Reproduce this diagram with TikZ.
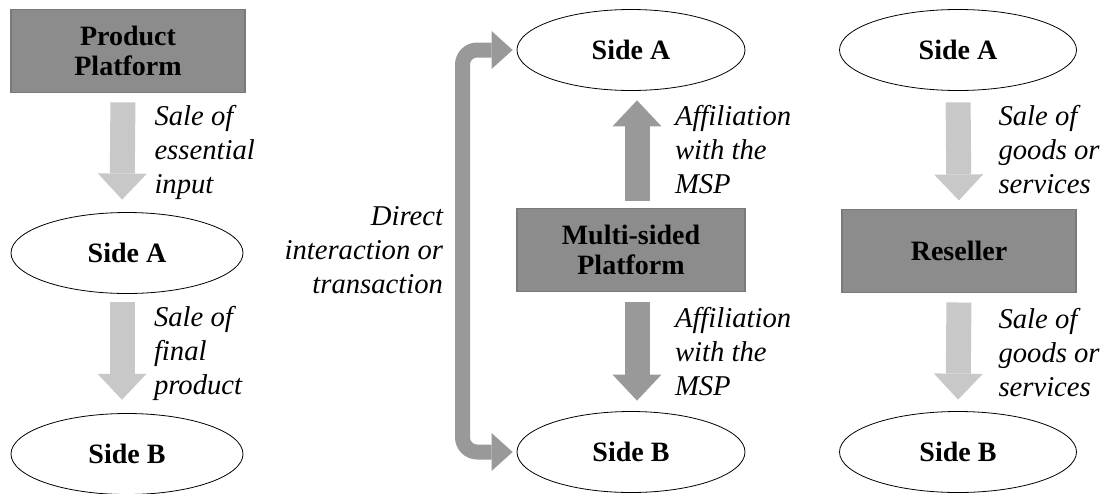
\documentclass[tikz,border=0pt]{standalone}
\usepackage{fontspec}
\setmainfont{Liberation Serif}
\usetikzlibrary{arrows.meta,shapes.geometric,positioning}
\definecolor{msBox}{HTML}{8C8C8C}
\definecolor{msBoxLine}{HTML}{7A7A7A}
\definecolor{msDark}{HTML}{999999}
\definecolor{msLight}{HTML}{C8C8C8}
\newcommand\ppx{0.75pt}
\tikzset{
  ms box/.style={rectangle, draw=msBoxLine, fill=msBox, line width=0.8pt, minimum width=234*\ppx, minimum height=83*\ppx, inner sep=0pt, align=center, font=\fontsize{21}{23}\selectfont\bfseries},
  ms side/.style={ellipse, draw=black, line width=0.6pt, minimum width=232*\ppx, minimum height=81*\ppx, inner sep=0pt, font=\fontsize{21}{23}\selectfont\bfseries},
  ms flow/.style={line width=18.75pt, -{Triangle[length=19.5pt, width=36.75pt, line width=0pt]}},
  ms link/.style={draw=msDark, line width=11.25pt, rounded corners=11pt, {Triangle[length=15.75pt, width=28.5pt, line width=0pt]}-{Triangle[length=15.75pt, width=28.5pt, line width=0pt]}},
  ms note/.style={font=\fontsize{21.5}{25.5}\selectfont\itshape, align=left, inner sep=0pt, outer sep=0pt, text=black},
}
\begin{document}
\begin{tikzpicture}[x=0.75pt,y=-0.75pt]
\useasboundingbox (0,0) rectangle (1103,493);
% product platform
\node[ms box] (prod) at (128,51) {Product\\Platform};
\node[ms side] (pA) at (127,253) {Side A};
\node[ms side] (pB) at (127,454) {Side B};
\draw[ms flow, draw=msLight, shorten <=7pt, shorten >=9.4pt] ([xshift=-3.75pt]prod.south) -- ([xshift=-3.75pt]pA.north)
  node[ms note, midway, right=24pt] (saleIn) {Sale of\\essential\\input};
\draw[ms flow, draw=msLight, shorten <=6.4pt, shorten >=10pt] ([xshift=-3.75pt]pA.south) -- ([xshift=-3.75pt]pB.north)
  node[ms note, midway, right=24pt] (saleFin) {Sale of\\final\\product};
% multi-sided platform
\node[ms side, minimum width=228*\ppx] (mA) at (631,50) {Side A};
\node[ms box, minimum width=228*\ppx] (msp) at (631,250) {Multi-sided\\Platform};
\node[ms side, minimum width=228*\ppx] (mB) at (631,452) {Side B};
\draw[ms flow, draw=msDark, shorten <=5.6pt, shorten >=7.1pt] ([xshift=4.5pt]msp.north) -- ([xshift=4.5pt]mA.south)
  node[ms note, midway, right=28.5pt] (affA) {Affiliation\\with the\\MSP};
\draw[ms flow, draw=msDark, shorten <=7.1pt, shorten >=7.9pt] ([xshift=4.5pt]msp.south) -- ([xshift=4.5pt]mB.north)
  node[ms note, midway, right=28.5pt] (affB) {Affiliation\\with the\\MSP};
\coordinate (mBend) at (462.5,250);
\draw[ms link, shorten <=3pt, shorten >=3pt] (mB.west) -| (mBend) |- (mA.west);
\node[ms note, align=right, anchor=east] (direct) at ([xshift=-14.6pt]mBend) {Direct\\interaction or\\transaction};
% reseller
\node[ms side, minimum width=237*\ppx] (rA) at (958,50) {Side A};
\node[ms box] (res) at (959,251) {Reseller};
\node[ms side, minimum width=237*\ppx] (rB) at (958,452) {Side B};
\draw[ms flow, draw=msLight, shorten <=8.6pt, shorten >=6.4pt] (rA.south) -- (res.north)
  node[ms note, midway, right=30pt] (saleGA) {Sale of\\goods or\\services};
\draw[ms flow, draw=msLight, shorten <=7.1pt, shorten >=8.6pt] (res.south) -- (rB.north)
  node[ms note, midway, right=30pt] (saleGB) {Sale of\\goods or\\services};
\end{tikzpicture}
\end{document}
